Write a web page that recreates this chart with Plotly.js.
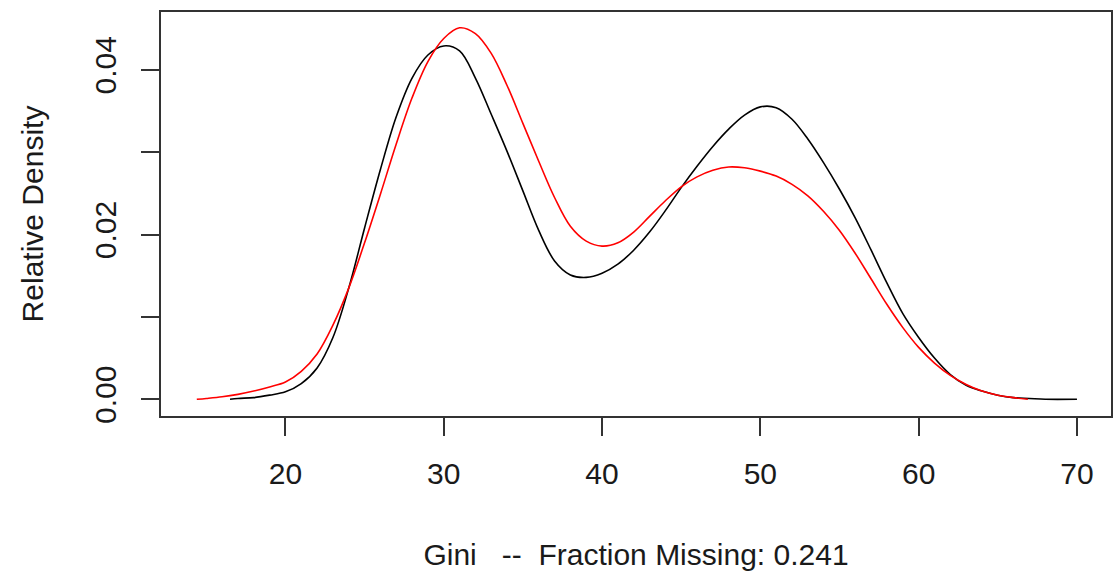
<!DOCTYPE html>
<html>
<head>
<meta charset="utf-8">
<script src="https://cdn.plot.ly/plotly-3.0.1.min.js"></script>
<style>html,body{margin:0;padding:0;background:#fff;}#chart{width:1114px;height:577px;}</style>
</head>
<body>
<div id="chart"></div>
<script>
// Black curve (observed Gini density)
const blackX = [16.5, 17, 18, 19, 20, 21, 22, 23, 24, 25, 26, 27, 28, 29, 30, 31, 32, 33, 34, 35, 36, 37, 38, 39, 40, 41, 42, 43, 44, 45, 46, 47, 48, 49, 50, 51, 52, 53, 54, 55, 56, 57, 58, 59, 60, 61, 62, 63, 64, 65, 66, 67, 68, 70];
const blackY = [0, 0.0001, 0.0002, 0.0005, 0.0009, 0.0019, 0.0038, 0.0075, 0.0135, 0.0208, 0.0279, 0.0343, 0.0390, 0.0418, 0.0429, 0.0423, 0.0390, 0.0346, 0.0301, 0.0253, 0.0205, 0.0168, 0.0151, 0.0148, 0.0153, 0.0164, 0.0181, 0.0203, 0.0229, 0.0257, 0.0283, 0.0307, 0.0328, 0.0345, 0.0355, 0.0354, 0.0340, 0.0316, 0.0287, 0.0255, 0.0220, 0.0181, 0.0141, 0.0104, 0.0075, 0.0050, 0.0030, 0.0017, 0.0010, 0.0005, 0.0002, 0.0001, 0, 0];
// Red curve (imputed Gini density)
const redX = [14.4, 15, 16, 17, 18, 19, 20, 21, 22, 23, 24, 25, 26, 27, 28, 29, 30, 31, 32, 33, 34, 35, 36, 37, 38, 39, 40, 41, 42, 43, 44, 45, 46, 47, 48, 49, 50, 51, 52, 53, 54, 55, 56, 57, 58, 59, 60, 61, 62, 63, 64, 65, 66, 66.9];
const redY = [0, 0.0001, 0.0003, 0.0006, 0.0010, 0.0015, 0.0021, 0.0034, 0.0055, 0.0090, 0.0135, 0.0190, 0.0249, 0.0310, 0.0366, 0.0410, 0.0438, 0.0451, 0.0444, 0.0420, 0.0381, 0.0335, 0.0289, 0.0245, 0.0210, 0.0192, 0.0186, 0.0190, 0.0203, 0.0222, 0.0241, 0.0258, 0.0270, 0.0278, 0.0282, 0.0281, 0.0277, 0.0271, 0.0261, 0.0247, 0.0228, 0.0205, 0.0177, 0.0146, 0.0115, 0.0087, 0.0063, 0.0044, 0.0029, 0.0018, 0.0010, 0.0005, 0.0002, 0];

const xTicks = [20, 30, 40, 50, 60, 70];
const yTicks = [0, 0.01, 0.02, 0.03, 0.04];
const yTickText = ['0.00', '', '0.02', '', '0.04'];
const xTitle = 'Gini   --  Fraction Missing: 0.241';
const yTitle = 'Relative Density';

const fontFam = 'Liberation Sans, Arial, sans-serif';
const fnt = {family: fontFam, size: 30, color: '#1a1a1a'};
const traces = [
  {x: blackX, y: blackY, type: 'scatter', mode: 'lines', line: {color: '#000000', width: 1.6, shape: 'spline', smoothing: 1}, hoverinfo: 'skip'},
  {x: redX, y: redY, type: 'scatter', mode: 'lines', line: {color: '#ff0000', width: 1.6, shape: 'spline', smoothing: 1}, hoverinfo: 'skip'}
];
const layout = {
  width: 1114, height: 577,
  margin: {l: 161, r: 3, t: 12, b: 161},
  paper_bgcolor: '#ffffff', plot_bgcolor: '#ffffff',
  showlegend: false,
  font: fnt,
  xaxis: {
    range: [12.14, 72.15], tickvals: xTicks, ticktext: xTicks.map(String),
    showgrid: false, zeroline: false, showline: true, mirror: true,
    linecolor: '#333333', linewidth: 2,
    ticks: 'outside', ticklen: 18, tickwidth: 2, tickcolor: '#333333',
    ticklabelstandoff: 12,
    tickfont: fnt,
    title: {text: xTitle, standoff: 55, font: fnt}
  },
  yaxis: {
    range: [-0.00203, 0.04702], tickvals: yTicks, ticktext: yTickText,
    tickangle: -90,
    showgrid: false, zeroline: false, showline: true, mirror: true,
    linecolor: '#333333', linewidth: 2,
    ticks: 'outside', ticklen: 18, tickwidth: 2, tickcolor: '#333333',
    ticklabelstandoff: 13,
    tickfont: fnt,
    title: {text: yTitle, standoff: 37, font: fnt}
  }
};
Plotly.newPlot('chart', traces, layout, {displayModeBar: false, staticPlot: true});
</script>
</body>
</html>
